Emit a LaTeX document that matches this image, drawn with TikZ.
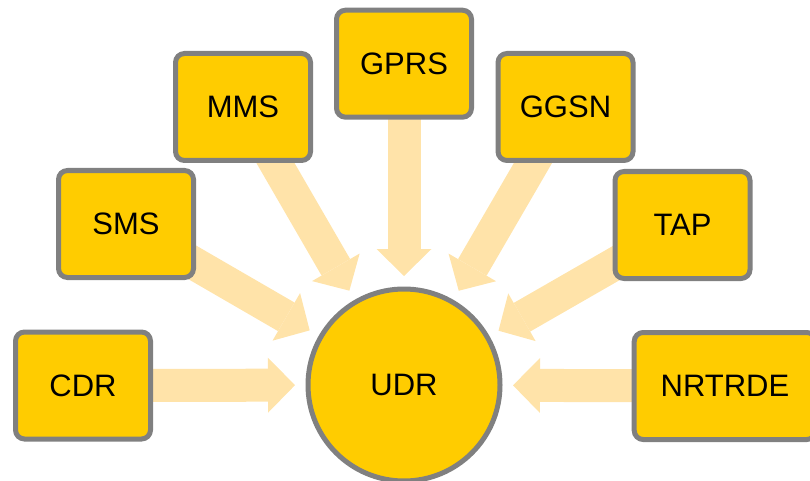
\documentclass[tikz,border=0pt]{standalone}
\usepackage{fontspec}
\setmainfont{Liberation Sans}
\usetikzlibrary{arrows.meta}
\pgfdeclarelayer{background}
\pgfsetlayers{background,main}
\definecolor{gold}{HTML}{FFCC00}
\definecolor{frame}{HTML}{808080}
\definecolor{peach}{HTML}{FFE3A9}
\tikzset{
  srcbox/.style={draw=frame, fill=gold, line width=5pt, rounded corners=9pt,
    minimum width=135pt, minimum height=107pt, inner sep=0pt,
    font=\fontsize{31}{36}\selectfont},
  hub/.style={circle, draw=frame, fill=gold, line width=5pt,
    minimum size=192pt, inner sep=0pt, font=\fontsize{31}{36}\selectfont},
  feed/.style={draw=peach, line width=33pt,
    -{Triangle[width=55pt,length=27pt,line width=0pt]}, shorten >=10.5pt}
}
\begin{document}
\begin{tikzpicture}[x=1pt,y=-1pt]
\clip (0,0) rectangle (810,481);
\node[hub] (udr) at (404,385) {UDR};
\node[srcbox] (cdr)  at (83,385.5) {CDR};
\node[srcbox] (sms)  at (126,224)  {SMS};
\node[srcbox] (mms)  at (243,107)  {MMS};
\node[srcbox] (gprs) at (404,63.7) {GPRS};
\node[srcbox] (ggsn) at (565.5,107) {GGSN};
\node[srcbox] (tap)  at (682.5,225) {TAP};
\node[srcbox, minimum width=181.6pt] (nrtrde) at (725,386) {NRTRDE};
% feeds start under each box and stop short of the hub
\begin{pgfonlayer}{background}
  \foreach \s in {cdr,sms,mms,gprs,ggsn,tap,nrtrde}
    \draw[feed] (\s.center) -- (udr);
\end{pgfonlayer}
\end{tikzpicture}
\end{document}
